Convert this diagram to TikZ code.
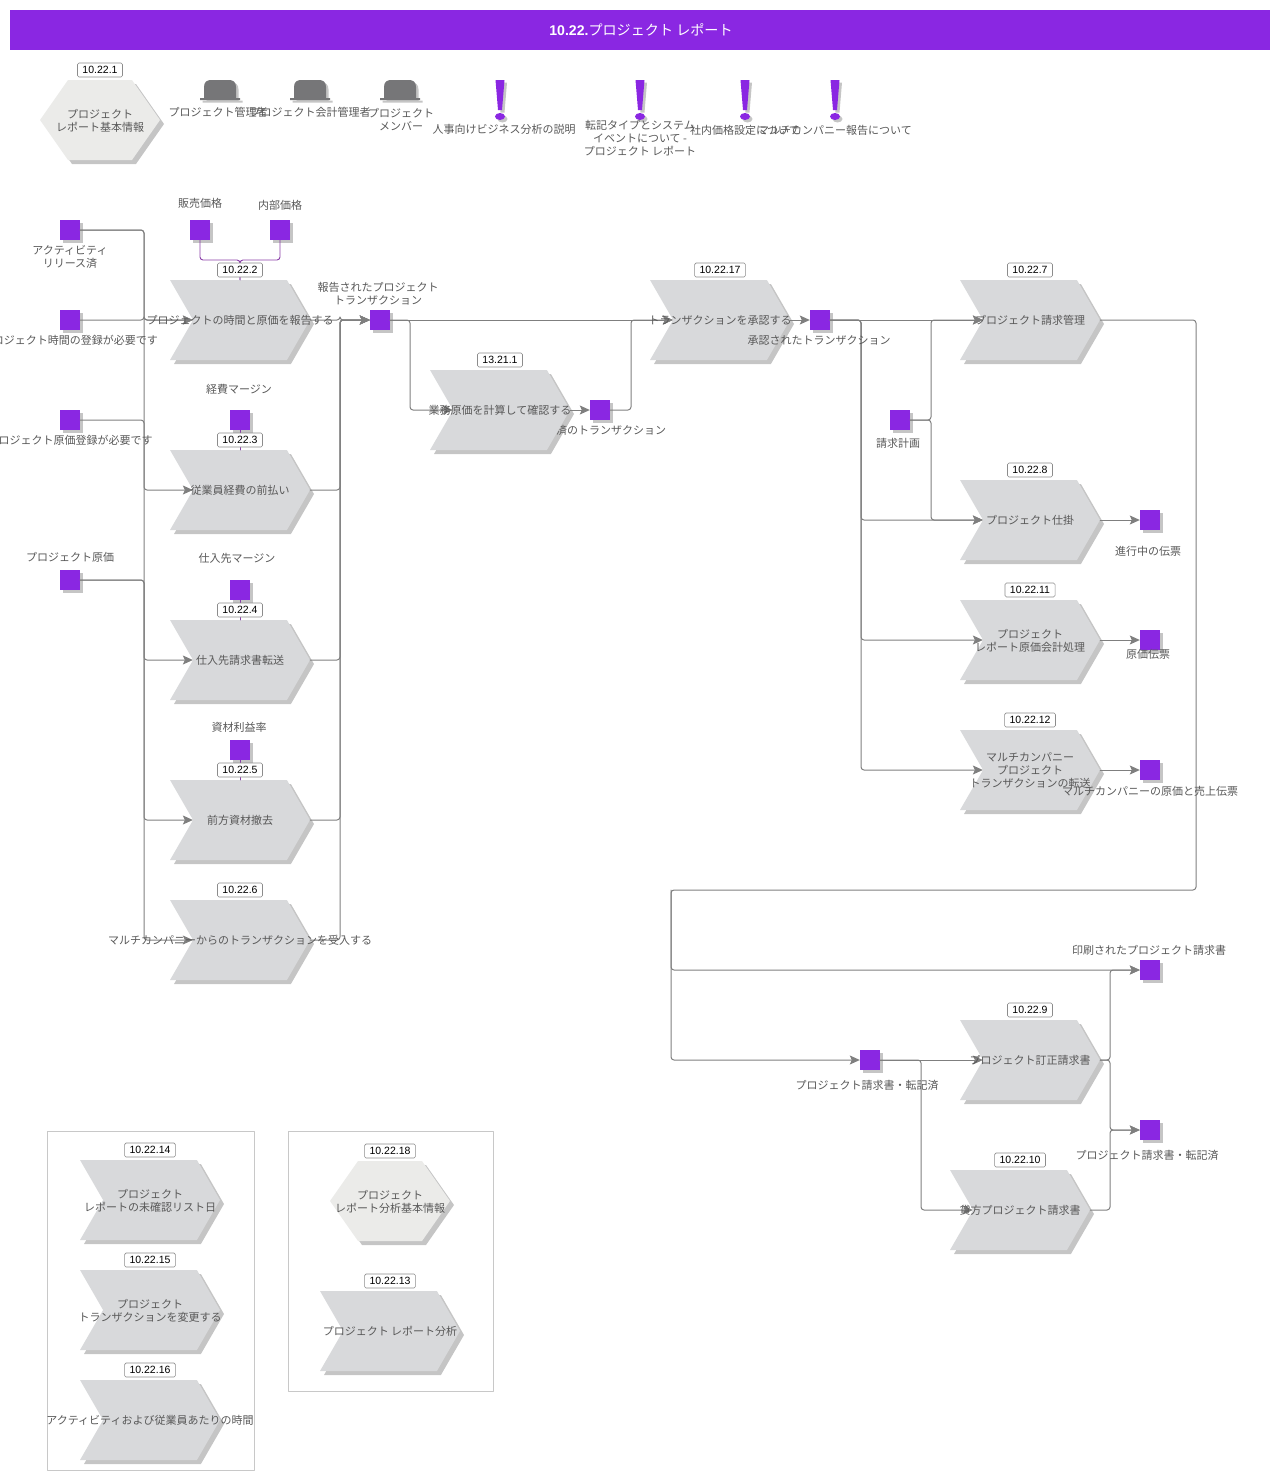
\documentclass[tikz,border=0pt]{standalone}
\usepackage{fontspec}
\setmainfont{Noto Sans CJK JP}
\newfontfamily\numfont{Liberation Sans}
\usetikzlibrary{arrows.meta}
\usetikzlibrary{positioning}
\usetikzlibrary{shadows}
\usetikzlibrary{shapes.symbols}
\definecolor{violetfill}{HTML}{8A27E2}
\definecolor{stepfill}{HTML}{D8D9DB}
\definecolor{hexfill}{HTML}{EBEBE9}
\definecolor{flowgray}{HTML}{7F7F7F}
\definecolor{linkviolet}{HTML}{8A3FA8}
\definecolor{textgray}{HTML}{585858}
\definecolor{framegray}{HTML}{C8C8C8}
\definecolor{hatgray}{HTML}{767678}
\tikzset{
  softshadow/.style={drop shadow={shadow xshift=#1,shadow yshift=-#1,fill=black!60,opacity=.38}},
  stepshape/.style={signal,signal from=west,signal to=east,signal pointer angle=120,fill=stepfill,inner sep=0pt,minimum width=140pt,minimum height=80pt,softshadow=4pt},
  hexshape/.style={signal,signal to=east and west,signal pointer angle=110,fill=hexfill,inner sep=0pt,minimum width=120pt,minimum height=80pt,softshadow=4pt},
  marker/.style={rectangle,fill=violetfill,inner sep=0pt,minimum width=20pt,minimum height=20pt,softshadow=3pt},
  txt/.style={align=center,inner sep=0pt,yshift=-.5pt,text=textgray,font=\fontsize{11}{13}\selectfont},
  badge/.style={rectangle,draw=black!45,fill=white,rounded corners=1.5pt,line width=.6pt,inner xsep=5pt,inner ysep=0pt,minimum height=14pt,text=black,font=\numfont\fontsize{10.5}{12}\selectfont},
  flow/.style={draw=flowgray,line width=1pt,rounded corners=3pt},
  flowto/.style={flow,-{Stealth[length=10pt,width=9pt,inset=2pt]}},
  link/.style={draw=linkviolet,line width=.9pt,rounded corners=3pt},
  framebox/.style={draw=framegray,line width=.8pt}
}
\begin{document}
\begin{tikzpicture}[line cap=round,line join=round,x=1pt,y=-1pt]
\useasboundingbox (0,0) rectangle (1280,1480);
\node[rectangle,fill=violetfill,minimum width=1260pt,minimum height=40pt,inner sep=0pt] (banner) at (640,30) {};
\node[text=white,inner sep=0pt,xshift=1pt,font=\fontsize{14.1}{16}\selectfont] (title) at (banner) {{\numfont\bfseries 10.22.}プロジェクト レポート};
\draw[framebox] (47.5,1131.5) rectangle (254.5,1470.5);
\draw[framebox] (288.5,1131.5) rectangle (493.5,1391.5);
\node[txt] (m11lbl) at (600,430) {計算済のトランザクション};
\foreach \nm/\x/\y in {p2/240/320,p3/240/490,p4/240/660,p5/240/820,p6/240/940,p1321/500/410,p17/720/320,p7/1030/320,p8/1030/520,p11/1030/640,p12/1030/770,p9/1030/1060,p10/1020/1210,p14/150/1200,p15/150/1310,p16/150/1420,p13/390/1331}
\node[stepshape] (\nm) at (\x,\y) {};
\node[hexshape] (h1) at (100,120) {};
\node[hexshape] (h18) at (390,1201) {};
\foreach \nm/\x/\y in {m1/70/230,m2/70/320,m3/70/420,m4/70/580,m5/200/230,m6/280/230,m7/240/420,m8/240/590,m9/240/750,m10/380/320,m11/600/410,m12/820/320,m13/900/420,m14/1150/520,m15/1150/640,m16/1150/770,m17/1150/970,m18/870/1060,m19/1150/1130}
\node[marker] (\nm) at (\x,\y) {};
\foreach \x in {220,310,400} {
\fill[hatgray,softshadow=2.5pt] (\x-16,98) -- (\x-16,87) .. controls (\x-16,82) and (\x-13,80) .. (\x-9,80) -- (\x+9,80) .. controls (\x+13,80) and (\x+16,82) .. (\x+16,87) -- (\x+16,98) -- (\x+20,98) -- (\x+20,100) -- (\x-20,100) -- (\x-20,98) -- cycle;
}
\foreach \x in {500,640,745,835} {
\fill[violetfill,softshadow=2.5pt] (\x-4.5,80) -- (\x+4.5,80) -- (\x+2,110) -- (\x-2,110) -- cycle;
\fill[violetfill,softshadow=2.5pt] (\x,116.5) ellipse (5 and 3.5);
}
\coordinate (wbus) at (144,230);
\coordinate (ebus) at (340,320);
\coordinate (pbus) at (410,320);
\coordinate (qbus) at (631,320);
\coordinate (rbus) at (861,320);
\coordinate (sbus) at (931,320);
\coordinate (tbus) at (1196,890);
\coordinate (ubus) at (671,890);
\coordinate (vbus) at (921,1060);
\coordinate (zbus) at (1110,1060);
\foreach \src/\dst in {m1/p2,m1/p6,m2/p2,m3/p3,m4/p4,m4/p5}
\draw[flowto] (\src.east) -| (wbus |- \dst) -- (\dst.west);
\foreach \src in {p2,p3,p4,p5,p6}
\draw[flowto] (\src.east) -| (ebus) -- (m10.west);
\draw[flowto] (m10.east) -- (p17.west);
\draw[flowto] (m10.east) -| (pbus |- p1321) -- (p1321.west);
\draw[flowto] (p1321.east) -- (m11.west);
\draw[flowto] (m11.east) -| (qbus) -- (p17.west);
\draw[flowto] (p17.east) -- (m12.west);
\draw[flowto] (m12.east) -- (p7.west);
\foreach \dst in {p8,p11,p12}
\draw[flowto] (m12.east) -| (rbus |- \dst) -- (\dst.west);
\foreach \dst in {p7,p8}
\draw[flowto] (m13.east) -| (sbus |- \dst) -- (\dst.west);
\draw[flowto] (p8.east) -- (m14.west);
\draw[flowto] (p11.east) -- (m15.west);
\draw[flowto] (p12.east) -- (m16.west);
\draw[flowto] (p7.east) -| (tbus) -- (ubus) |- (m18.west);
\draw[flowto] (ubus) |- (m17.west);
\draw[flowto] (m18.east) -- (p9.west);
\draw[flowto] (m18.east) -| (vbus |- p10) -- (p10.west);
\foreach \dst in {m17,m19}
\draw[flowto] (p9.east) -| (zbus |- \dst) -- (\dst.west);
\draw[flowto] (p10.east) -| (zbus |- m19) -- (m19.west);
\draw[link] (m5.south) |- (240,260) -- (p2.north);
\draw[link] (m6.south) |- (240,260) -- (p2.north);
\draw[link] (m7.south) -- (p3.north);
\draw[link] (m8.south) -- (p4.north);
\draw[link] (m9.south) -- (p5.north);
\foreach \nm/\txt in {p2/プロジェクトの時間と原価を報告する,p3/従業員経費の前払い,p4/仕入先請求書転送,p5/前方資材撤去,p6/マルチカンパニーからのトランザクションを受入する,p1321/業務原価を計算して確認する,p17/トランザクションを承認する,p7/プロジェクト請求管理,p8/プロジェクト仕掛,p11/{プロジェクト\\レポート原価会計処理},p12/{マルチカンパニー\\プロジェクト\\トランザクションの転送},p9/プロジェクト訂正請求書,p10/貸方プロジェクト請求書,p14/{プロジェクト\\レポートの未確認リスト日},p15/{プロジェクト\\トランザクションを変更する},p16/アクティビティおよび従業員あたりの時間,p13/プロジェクト レポート分析,h1/{プロジェクト\\レポート基本情報},h18/{プロジェクト\\レポート分析基本情報}}
\node[txt] (\nm txt) at (\nm) {\txt};
\foreach \nm/\num in {p2/10.22.2,p3/10.22.3,p4/10.22.4,p5/10.22.5,p6/10.22.6,p1321/13.21.1,p17/10.22.17,p7/10.22.7,p8/10.22.8,p11/10.22.11,p12/10.22.12,p9/10.22.9,p10/10.22.10,p14/10.22.14,p15/10.22.15,p16/10.22.16,p13/10.22.13,h1/10.22.1,h18/10.22.18}
\node[badge,above=2.5pt of \nm.north] (\nm num) {\num};
\foreach \nm/\x/\y/\txt in {hat1/218/112/プロジェクト管理者,hat2/310/112/プロジェクト会計管理者,hat3/401/119/{プロジェクト\\メンバー},bang1/504/129/人事向けビジネス分析の説明,bang2/640/138/{転記タイプとシステム\\イベントについて -\\プロジェクト レポート},bang3/745/130/社内価格設定について,bang4/835/130/マルチカンパニー報告について}
\node[txt] (\nm lbl) at (\x,\y) {\txt};
\foreach \nm/\x/\y/\txt in {m1/70/256/{アクティビティ\\リリース済},m2/70/340/プロジェクト時間の登録が必要です,m3/70/440/プロジェクト原価登録が必要です,m4/70/557/プロジェクト原価,m5/200/203/販売価格,m6/280/205/内部価格,m7/239/389/経費マージン,m8/237/558/仕入先マージン,m9/239/727/資材利益率,m10/378/293/{報告されたプロジェクト\\トランザクション},m12/819/340/承認されたトランザクション,m13/898/443/請求計画,m14/1148/551/進行中の伝票,m15/1148/654/原価伝票,m16/1150/791/マルチカンパニーの原価と売上伝票,m17/1149/950/印刷されたプロジェクト請求書,m18/867/1085/プロジェクト請求書・転記済,m19/1147/1155/プロジェクト請求書・転記済}
\node[txt] (\nm lbl) at (\x,\y) {\txt};
\end{tikzpicture}
\end{document}
